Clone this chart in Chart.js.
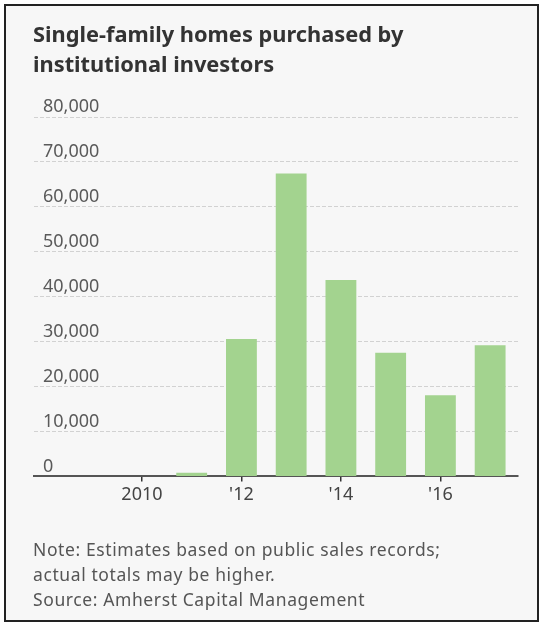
<!DOCTYPE html>
<html>
<head>
<meta charset="utf-8">
<script src="https://cdn.jsdelivr.net/npm/chart.js@4"></script>
<style>
    html, body { margin: 0; padding: 0; background: #fff; }
    #frame {
        position: absolute; left: 4px; top: 4px; width: 535px; height: 618px;
        box-sizing: border-box; border: 2px solid #222; background: #f7f7f7;
    }
    #chart-box { position: absolute; left: 0; top: 0; width: 540px; height: 623px; }
    .title {
        position: absolute; left: 33px; top: 19px; margin: 0;
        font-family: "Noto Sans", sans-serif; font-weight: 700; font-size: 21.8px;
        line-height: 30px; color: #333;
    }
    .note {
        position: absolute; left: 33px; top: 537px; margin: 0;
        font-family: "Noto Sans", sans-serif; font-size: 17.5px; letter-spacing: 0.6px;
        line-height: 25px; color: #555;
    }
</style>
</head>
<body>
<div id="frame"></div>
<div id="chart-box"><canvas id="homes-chart"></canvas></div>
<p class="title">Single-family homes purchased by<br>institutional investors</p>
<p class="note">Note: Estimates based on public sales records;<br>actual totals may be higher.<br>Source: Amherst Capital Management</p>
<script>
// Data
const years = [2010, 2011, 2012, 2013, 2014, 2015, 2016, 2017];
const homesBought = [0, 800, 30600, 67400, 43700, 27500, 18050, 29200];
const tickYears = [2010, 2012, 2014, 2016];
const tickLabels = ['2010', "'12", "'14", "'16"];

const barColor = '#a3d38f';

const canvas = document.getElementById('homes-chart');

new Chart(canvas, {
    type: 'bar',
    data: {
        datasets: [{
            label: 'Homes purchased',
            data: years.map((yr, i) => ({ x: yr, y: homesBought[i] })),
            backgroundColor: barColor,
            borderWidth: 0,
            barPercentage: 1,
            categoryPercentage: 0.62
        }]
    },
    options: {
        responsive: true,
        maintainAspectRatio: false,
        animation: false,
        layout: { padding: { left: 16, right: 22, top: 117, bottom: 114 } },
        plugins: {
            legend: { display: false },
            tooltip: { enabled: false },
            title: { display: false }
        },
        scales: {
            x: {
                type: 'linear',
                min: 2007.83,
                max: 2017.56,
                offset: false,
                afterBuildTicks: (scale) => {
                    scale.ticks = tickYears.map(v => ({ value: v }));
                },
                grid: {
                    offset: false,
                    drawOnChartArea: false,
                    drawTicks: true,
                    tickLength: 5,
                    color: '#333',
                    lineWidth: 1.5
                },
                border: { display: true, color: '#555', width: 2 },
                ticks: {
                    padding: 3,
                    color: '#444',
                    font: { family: 'Noto Sans', size: 18 },
                    maxRotation: 0,
                    callback: (value) => {
                        const idx = tickYears.indexOf(value);
                        return idx >= 0 ? tickLabels[idx] : '';
                    }
                }
            },
            y: {
                min: 0,
                max: 80000,
                grid: {
                    color: (ctx) => ctx.tick.value === 0 ? 'transparent' : '#d2d2d2',
                    lineWidth: 1,
                    drawTicks: false
                },
                border: { display: false, dash: [4, 2] },
                ticks: {
                    stepSize: 10000,
                    mirror: true,
                    padding: 9,
                    labelOffset: -10,
                    color: '#5a5a5a',
                    font: { family: 'Noto Sans', size: 18 },
                    callback: (value) => value.toLocaleString('en-US')
                }
            }
        }
    }
});
</script>
</body>
</html>
